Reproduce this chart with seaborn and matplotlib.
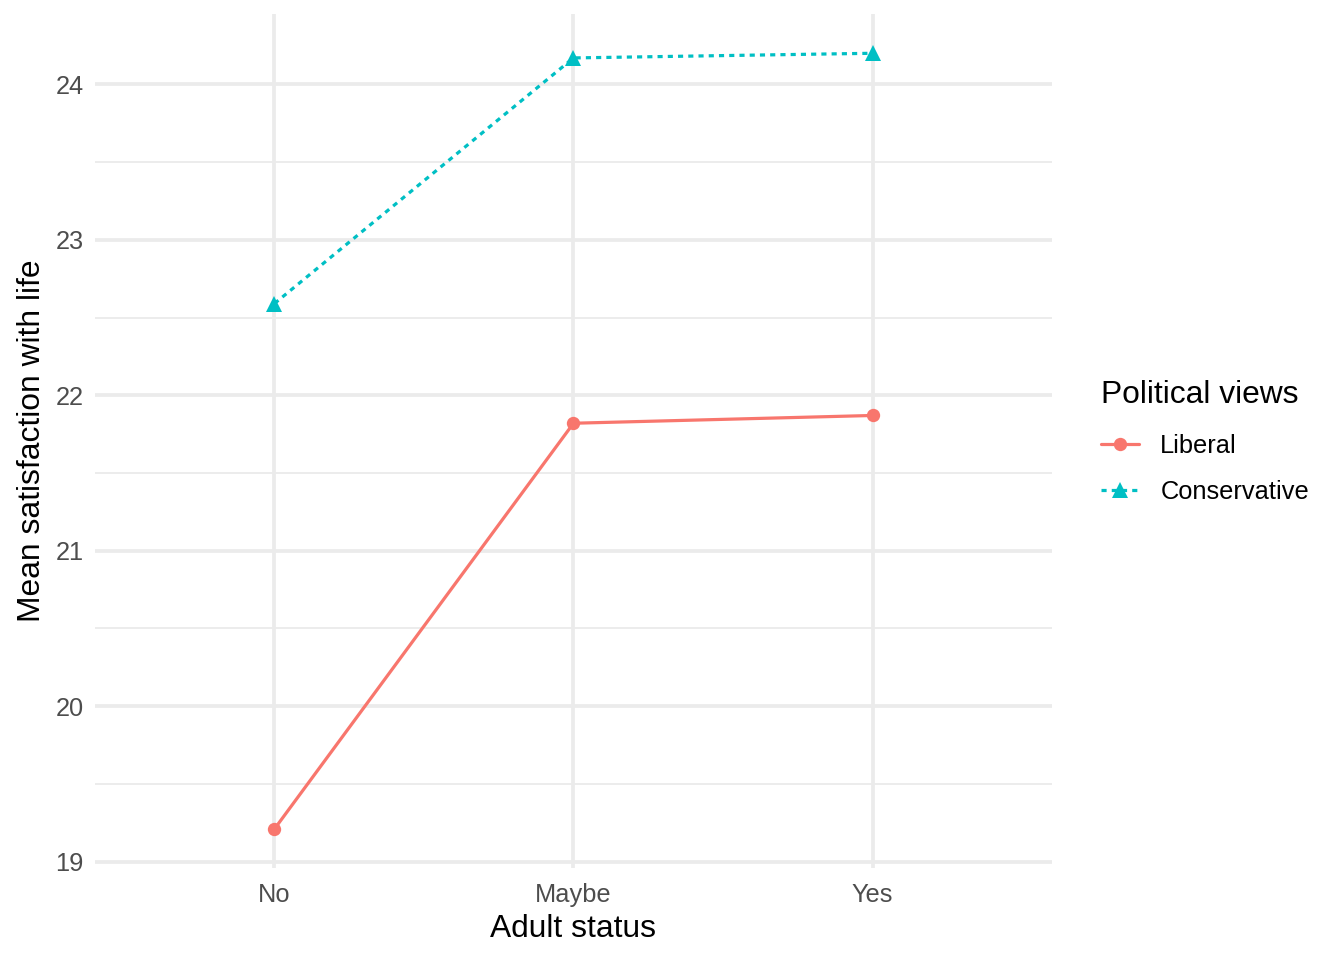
import matplotlib
matplotlib.use("Agg")
import matplotlib.pyplot as plt
import seaborn as sns
import pandas as pd
from matplotlib.lines import Line2D

# ------------------------------------------------
# DATA
# ------------------------------------------------

adult_status = ["No", "Maybe", "Yes"]
liberal = [19.21, 21.82, 21.87]
conservative = [22.59, 24.17, 24.20]

views = ["Liberal", "Conservative"]
colors = ["#F8766D", "#00BFC4"]
markers = ["o", "^"]
dash_styles = ["-", (0, (1.6, 1.6))]

df = pd.DataFrame({
    "Adult status": adult_status * 2,
    "Mean": liberal + conservative,
    "Political views": ["Liberal"] * 3 + ["Conservative"] * 3,
})

# ------------------------------------------------
# STYLE
# ------------------------------------------------

sns.set_theme(style="white")
plt.rcParams["font.family"] = ["Liberation Sans", "DejaVu Sans"]

fig = plt.figure(figsize=(7, 5), dpi=192)
ax = fig.add_axes([0.0707, 0.096, 0.712, 0.889])

ax.set_yticks([19.5, 20.5, 21.5, 22.5, 23.5], minor=True)
ax.grid(which="major", color="#EBEBEB", linewidth=1.42)
ax.grid(which="minor", axis="y", color="#EBEBEB", linewidth=0.71)
ax.set_axisbelow(True)

MS = {"o": 5.0, "^": 5.8}

for view, col, mk, ls in zip(views, colors, markers, dash_styles):
    sub = df[df["Political views"] == view]
    sns.lineplot(
        data=sub,
        x="Adult status",
        y="Mean",
        color=col,
        marker=mk,
        markersize=MS[mk],
        markeredgewidth=0,
        linewidth=1.2,
        linestyle=ls,
        ax=ax,
        legend=False,
    )

ax.set_xlim(-0.6, 2.6)
ax.set_ylim(18.96, 24.45)
ax.set_yticks([19, 20, 21, 22, 23, 24])
ax.set_yticklabels(["19", "20", "21", "22", "23", "24"])

for s in ax.spines.values():
    s.set_visible(False)

ax.tick_params(axis="x", which="both", length=0, labelsize=9.5,
               labelcolor="#4D4D4D", pad=5.6)
ax.tick_params(axis="y", which="both", length=0, labelsize=9.5,
               labelcolor="#4D4D4D", pad=4.2)

ax.set_xlabel("Adult status", fontsize=11.9, color="black", labelpad=2.8)
ax.set_ylabel("Mean satisfaction with life", fontsize=11.9, color="black", labelpad=3)

handles = [
    Line2D([0], [0], color=c, marker=m, linestyle=l, linewidth=1.2,
           markersize=MS[m], markeredgewidth=0)
    for c, m, l in zip(colors, markers, dash_styles)
]

leg = fig.legend(
    handles, views,
    title="Political views",
    loc="upper left",
    bbox_to_anchor=(0.819, 0.604),
    borderpad=0,
    borderaxespad=0,
    frameon=False,
    fontsize=9.5,
    title_fontsize=11.9,
    handlelength=1.5,
    handletextpad=0.85,
    labelspacing=0.85,
)
leg._legend_box.align = "left"
leg._legend_box.sep = 9
leg.get_title().set_color("black")
for t in leg.get_texts():
    t.set_color("black")

fig.savefig("out.png", dpi=192)
